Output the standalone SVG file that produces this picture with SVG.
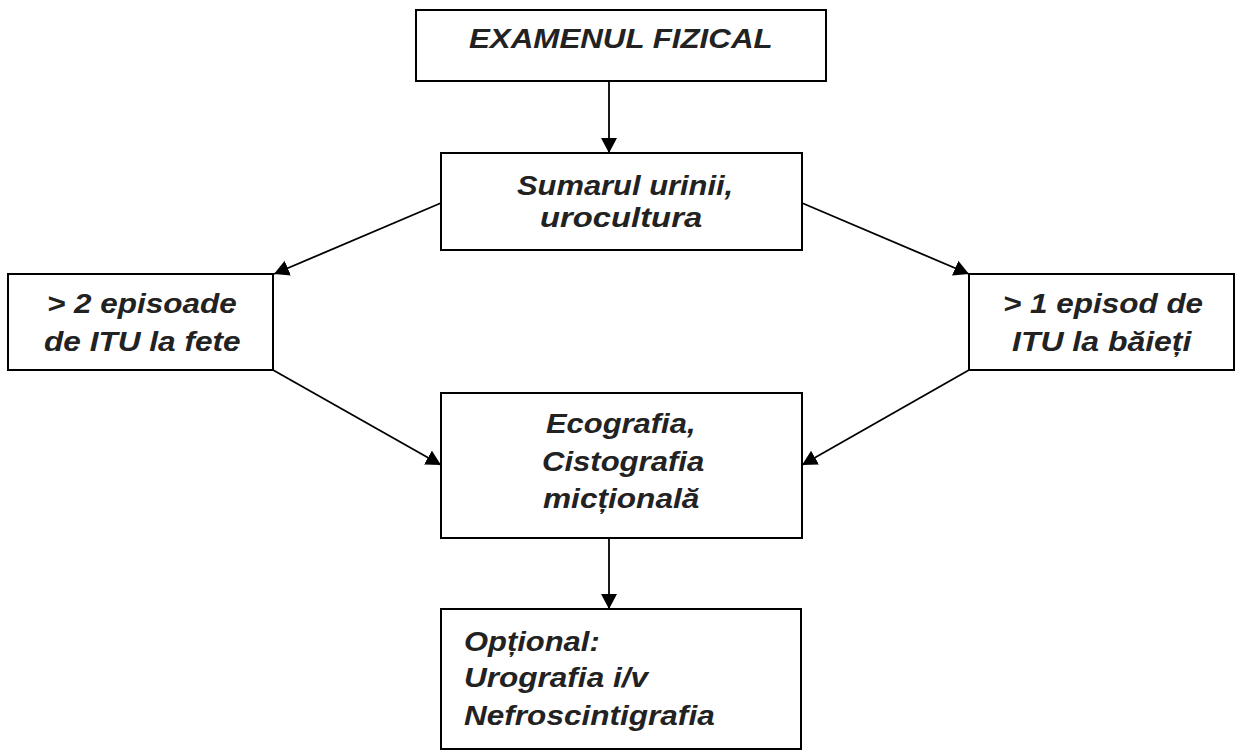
<svg xmlns="http://www.w3.org/2000/svg" width="1236" height="751" viewBox="0 0 1236 751">
<defs>
<style>
.box{fill:#fff;stroke:#000;stroke-width:2}
.t{font-family:"Liberation Sans",Arial,sans-serif;font-weight:bold;font-style:italic;font-size:28px;fill:#222}
.c{stroke:#000;stroke-width:1.8;fill:none;marker-end:url(#ah)}
</style>
<marker id="ah" markerUnits="userSpaceOnUse" markerWidth="16" markerHeight="17" refX="15" refY="8" orient="auto">
<path d="M0,0 L15,8 L0,16 Z" fill="#000"/>
</marker>
</defs>
<rect width="1236" height="751" fill="#fff"/>
<g id="connectors">
<line class="c" x1="609" y1="81" x2="609" y2="153"/>
<line class="c" x1="441" y1="203" x2="274" y2="274"/>
<line class="c" x1="802" y1="203" x2="969" y2="274"/>
<line class="c" x1="273" y1="370" x2="441" y2="465"/>
<line class="c" x1="969" y1="370" x2="802" y2="465"/>
<line class="c" x1="609" y1="538" x2="609" y2="609"/>
</g>
<g id="n-examen">
<rect class="box" x="416" y="10" width="410" height="71"/>
<text class="t" transform="translate(469,48) scale(1.15,1)" textLength="264" lengthAdjust="spacingAndGlyphs">EXAMENUL FIZICAL</text>
</g>
<g id="n-sumar">
<rect class="box" x="441" y="153" width="361" height="97"/>
<text class="t" transform="translate(517,195) scale(1.15,1)" textLength="188" lengthAdjust="spacingAndGlyphs">Sumarul urinii,</text>
<text class="t" transform="translate(540,227) scale(1.15,1)" textLength="141" lengthAdjust="spacingAndGlyphs">urocultura</text>
</g>
<g id="n-fete">
<rect class="box" x="8" y="274" width="265" height="96"/>
<text class="t" transform="translate(47,313) scale(1.15,1)" textLength="165" lengthAdjust="spacingAndGlyphs">&gt; 2 episoade</text>
<text class="t" transform="translate(44,351) scale(1.15,1)" textLength="171" lengthAdjust="spacingAndGlyphs">de ITU la fete</text>
</g>
<g id="n-baieti">
<rect class="box" x="969" y="274" width="265" height="96"/>
<text class="t" transform="translate(1003,313) scale(1.15,1)" textLength="174" lengthAdjust="spacingAndGlyphs">&gt; 1 episod de</text>
<text class="t" transform="translate(1012,351) scale(1.15,1)" textLength="156" lengthAdjust="spacingAndGlyphs">ITU la băieți</text>
</g>
<g id="n-eco">
<rect class="box" x="441" y="393" width="361" height="145"/>
<text class="t" transform="translate(546,433) scale(1.15,1)" textLength="130" lengthAdjust="spacingAndGlyphs">Ecografia,</text>
<text class="t" transform="translate(542,471) scale(1.15,1)" textLength="141" lengthAdjust="spacingAndGlyphs">Cistografia</text>
<text class="t" transform="translate(543,508) scale(1.15,1)" textLength="136" lengthAdjust="spacingAndGlyphs">micțională</text>
</g>
<g id="n-optional">
<rect class="box" x="441" y="609" width="360" height="140"/>
<text class="t" transform="translate(464,651) scale(1.15,1)" textLength="118" lengthAdjust="spacingAndGlyphs">Opțional:</text>
<text class="t" transform="translate(464,687) scale(1.15,1)" textLength="160" lengthAdjust="spacingAndGlyphs">Urografia i/v</text>
<text class="t" transform="translate(464,725) scale(1.15,1)" textLength="218" lengthAdjust="spacingAndGlyphs">Nefroscintigrafia</text>
</g>
</svg>
